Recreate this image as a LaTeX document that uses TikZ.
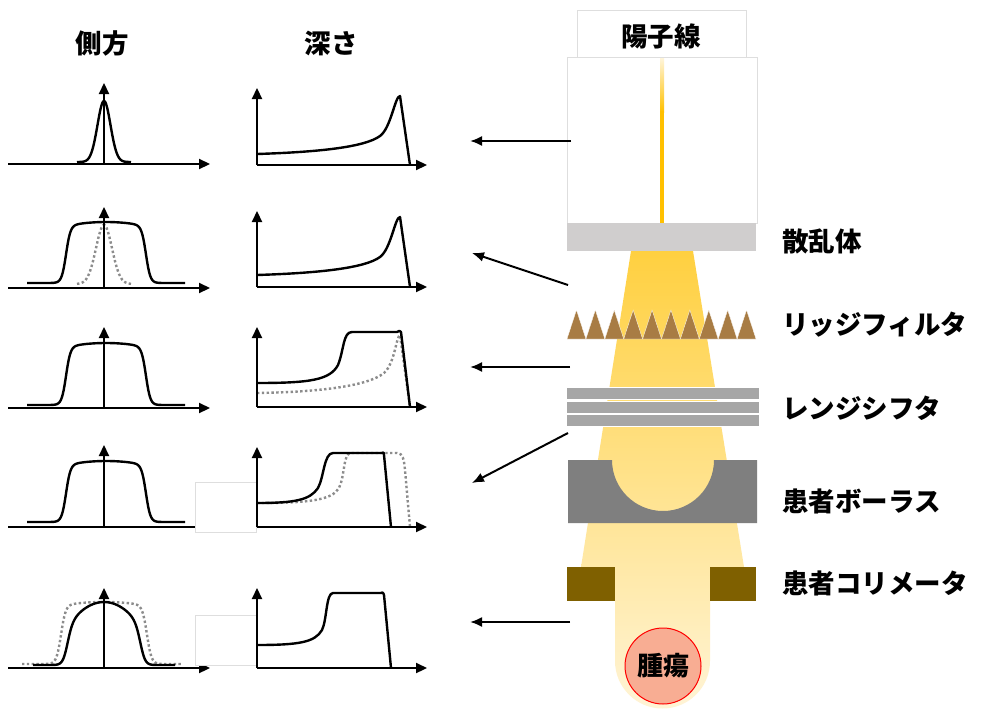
\documentclass[tikz,border=0pt]{standalone}
\usepackage{fontspec}
\newfontfamily\jp{Noto Sans CJK JP}
\usetikzlibrary{arrows.meta}
\definecolor{beamtop}{RGB}{255,208,64}
\definecolor{beambot}{RGB}{255,244,214}
\definecolor{beamline}{RGB}{255,192,0}
\definecolor{scatter}{RGB}{208,206,206}
\definecolor{ridge}{RGB}{168,124,68}
\definecolor{shifter}{RGB}{166,166,166}
\definecolor{bolus}{RGB}{127,127,127}
\definecolor{collim}{RGB}{127,96,0}
\definecolor{tumor}{RGB}{248,173,147}
\definecolor{frame}{RGB}{222,222,222}
\begin{document}
\begin{tikzpicture}[x=1pt,y=-1pt,
  declare function={
    sg(\t)=1/(1+exp(0-max(min(\t,9),-9)));
    gs(\t)=exp(max(-9,0-(\t)*(\t)/2));
    ft(\a,\l,\r,\w)=sg((\a-\l)/\w)*sg((\r-\a)/\w);
  },
  axis/.style={line width=2.2pt,-{Triangle[length=11pt,width=10pt]}},
  curve/.style={line width=2.4pt,line join=round},
  ghost/.style={line width=2.4pt,draw={rgb,255:red,140;green,140;blue,140},dash pattern=on 2.4pt off 2.4pt},
  pointer/.style={line width=2pt,-{Latex[length=12pt,width=10pt]}},
  label/.style={anchor=west,inner sep=0pt,font=\jp\bfseries\fontsize{26.5}{31}\selectfont},
  head/.style={inner sep=0pt,font=\jp\bfseries\fontsize{26.5}{31}\selectfont},
  patch/.style={draw=frame,line width=0.6pt,fill=white}]
\useasboundingbox[fill=white] (0,0) rectangle (984,709);

% ---------- column headings ----------
\node[head] (hlat) at (102,43) {側方};
\node[head] (hdep) at (331,43) {深さ};

% ---------- beam line ----------
\draw[frame,line width=0.6pt,fill=white] (577,10) rectangle (746,57);
\node[head] (proton) at (661,36) {陽子線};
\draw[frame,line width=0.6pt,fill=white] (567,57) rectangle (757,223);
\shade[top color=beambot,bottom color=beamline] (660,59) rectangle (664,112);
\fill[beamline] (660,111) rectangle (664,223);

% broadened beam, from scatterer to tumour
\shade[top color=beamtop,bottom color=beambot]
  (631,251) -- (693,251) -- (744,567) -- (710,567) -- (710,661)
  arc (0:180:47.5) -- (615,567) -- (581,567) -- cycle;

% scatterer
\fill[scatter] (567,223) rectangle (756,251);
% ridge filter
\foreach \i in {0,...,9}
  \fill[ridge,draw=white,line width=0.3pt]
    ({567+18.9*\i},339) -- ({576.45+18.9*\i},310) -- ({585.9+18.9*\i},339) -- cycle;
% range shifter
\foreach \ya/\yb in {387/399,401/413,414/426}
  \fill[shifter,draw=white,line width=1pt] (566,\ya) rectangle (759,\yb);
% bolus with its round cut-out
\fill[bolus] (568,460) -- (612,460) arc (180:0:51) -- (757,460) -- (757,523) -- (568,523) -- cycle;
% patient collimator
\fill[collim] (567,567) rectangle (615,601);
\fill[collim] (710,567) rectangle (756,601);
% tumour
\node[circle,draw=red,line width=1pt,fill=tumor,minimum size=76pt,inner sep=0pt,
      font=\jp\bfseries\fontsize{26}{30}\selectfont] (tumour) at (663,666) {腫瘍};

% ---------- component names ----------
\node[label] (lscat)  at (782,241) {散乱体};
\node[label] (lridge) at (782,325) {リッジフィルタ};
\node[label] (lshift) at (782,408) {レンジシフタ};
\node[label] (lbolus) at (782,501) {患者ボーラス};
\node[label] (lcoll)  at (782,583) {患者コリメータ};

% ---------- pointers to the profiles ----------
\coordinate (p1s) at (571,141); \coordinate (p1e) at (470,141);
\coordinate (p2s) at (568,285); \coordinate (p2e) at (472,253);
\coordinate (p3s) at (570,367); \coordinate (p3e) at (470,367);
\coordinate (p4s) at (568,433); \coordinate (p4e) at (472,483);
\coordinate (p5s) at (570,622); \coordinate (p5e) at (470,622);
\draw[pointer] (p1s) -- (p1e);
\draw[pointer] (p2s) -- (p2e);
\draw[pointer] (p3s) -- (p3e);
\draw[pointer] (p4s) -- (p4e);
\draw[pointer] (p5s) -- (p5e);

% ---------- lateral profiles ----------
% row 1: pencil beam
\draw[curve] plot[domain=77:131,samples=90] (\x,{162-61*gs((\x-104)/6.5)});
\draw[axis] (8,164) -- (210,164);
\draw[axis] (104,164) -- (104,83);
% row 2: after scatterer
\draw[ghost] plot[domain=77:131,samples=90] (\x,{284-59*gs((\x-104)/8)});
\draw[curve] plot[domain=27:185,samples=160]
  (\x,{283-(57+4*(1-((\x-106)/40)*((\x-106)/40)))*ft(\x,66,146,2.2)});
\draw[axis] (8,288) -- (210,288);
\draw[axis] (104,288) -- (104,207);
% row 3: after ridge filter
\draw[curve] plot[domain=27:185,samples=160]
  (\x,{405-(58+4*(1-((\x-106)/40)*((\x-106)/40)))*ft(\x,66,146,2.2)});
\draw[axis] (8,408) -- (210,408);
\draw[axis] (104,408) -- (104,327);
% row 4: after range shifter
\draw[curve] plot[domain=27:185,samples=160]
  (\x,{522-(57+4*(1-((\x-106)/40)*((\x-106)/40)))*ft(\x,66,146,2.2)});
\draw[axis] (8,527) -- (210,527);
\draw[axis] (104,527) -- (104,445);
% row 5: after collimator
\draw[ghost] plot[domain=22:182,samples=160]
  (\x,{664-(59+3*(1-((\x-104)/40)*((\x-104)/40)))*ft(\x,61,147,2.3)});
\draw[curve] plot[domain=33:175,samples=160]
  (\x,{665-63*(1-0.45*((\x-104)/40)*((\x-104)/40))*ft(\x,67,141,2.5)});
\draw[axis] (8,668) -- (210,668);
\draw[axis] (104,668) -- (104,588);

% blank patches
\draw[patch] (195,482) rectangle (256,532);
\draw[patch] (195,615) rectangle (256,665);

% ---------- depth profiles ----------
% row 1: Bragg peak
\draw[curve] (257,154) .. controls (320,152) and (365,147) .. (380,136)
  .. controls (391,128) and (395,96) .. (400,96) -- (410,165);
\draw[axis] (257,165) -- (427,165);
\draw[axis] (257,165) -- (257,88);
% row 2
\draw[curve] (257,275) .. controls (320,273) and (365,268) .. (380,257)
  .. controls (391,249) and (395,217) .. (400,217) -- (410,287);
\draw[axis] (257,287) -- (427,287);
\draw[axis] (257,287) -- (257,211);
% row 3: spread-out peak
\draw[ghost] (257,393) .. controls (320,392) and (368,386) .. (384,373)
  .. controls (395,363) and (396,337) .. (400,335) -- (410,407);
\draw[curve] (257,383) .. controls (310,383) and (330,380) .. (338,365)
  .. controls (344,350) and (343,332) .. (352,332) -- (397,332)
  .. controls (399,331) and (400,330) .. (401,332) -- (410,407);
\draw[axis] (257,407) -- (427,407);
\draw[axis] (257,407) -- (257,327);
% row 4: shifted range
\draw[ghost] (257,503) .. controls (310,503) and (332,500) .. (339,488)
  .. controls (345,476) and (343,453) .. (351,453) -- (397,453)
  .. controls (403,453) and (404,460) .. (405,470) -- (410,527);
\draw[curve] (257,503) .. controls (295,503) and (310,500) .. (318,488)
  .. controls (324,477) and (324,453) .. (333,453) -- (382,453)
  .. controls (383,452) and (384,452) .. (384,455) -- (391,527);
\draw[axis] (257,527) -- (427,527);
\draw[axis] (257,527) -- (257,447);
% row 5
\draw[curve] (257,645) .. controls (300,645) and (315,642) .. (322,630)
  .. controls (327,620) and (326,593) .. (333,593) -- (381,593)
  .. controls (382,592) and (383,592) .. (384,595) -- (391,668);
\draw[axis] (257,668) -- (427,668);
\draw[axis] (257,668) -- (257,588);
\end{tikzpicture}
\end{document}
